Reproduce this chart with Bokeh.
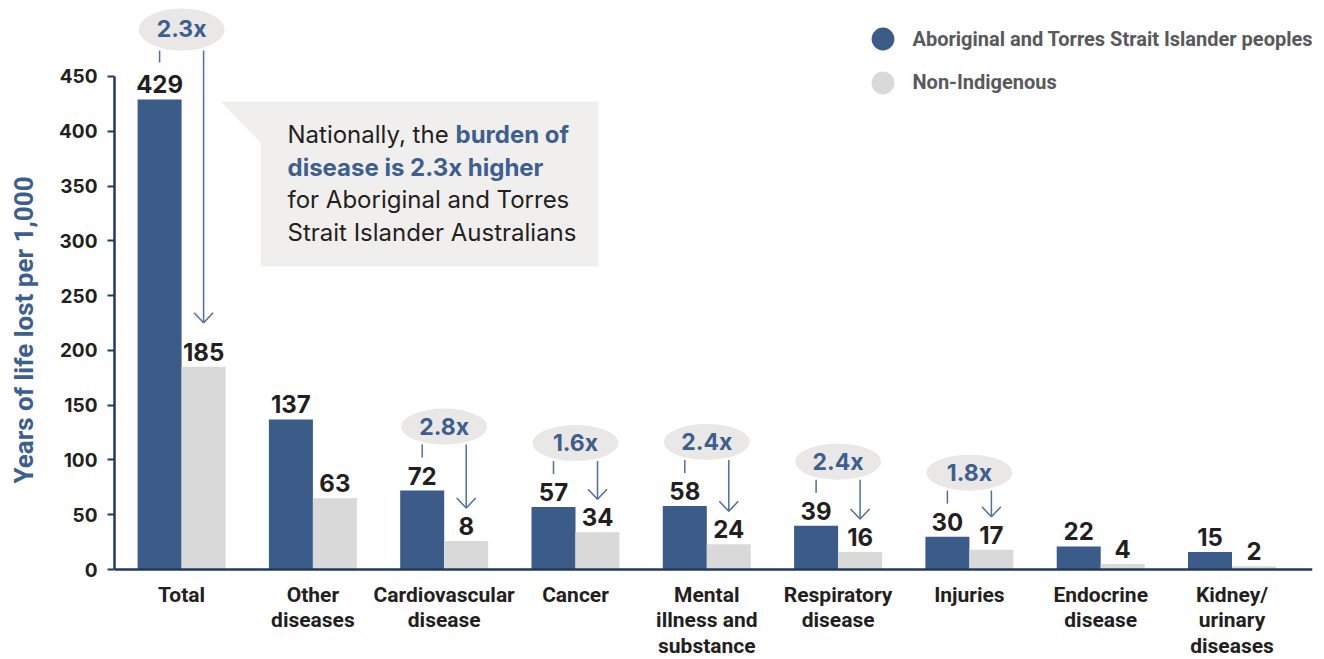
import numpy as np
from bokeh.plotting import figure
from bokeh.models import Range1d, FixedTicker, Legend, LegendItem
from bokeh.core.properties import value
from bokeh.embed import file_html
from bokeh.resources import INLINE

# ---------------- data ----------------
categories = ["Total", "Other\ndiseases", "Cardiovascular\ndisease", "Cancer",
              "Mental\nillness and\nsubstance", "Respiratory\ndisease", "Injuries",
              "Endocrine\ndisease", "Kidney/\nurinary\ndiseases"]
aboriginal = [429, 137, 72, 57, 58, 40, 30, 21, 16]
non_indigenous = [185, 65, 26, 34, 23, 16, 18, 5, 3]
aboriginal_labels = ["429", "137", "72", "57", "58", "39", "30", "22", "15"]
non_indigenous_labels = ["185", "63", "8", "34", "24", "16", "17", "4", "2"]
ratio_labels = ["2.3x", "", "2.8x", "1.6x", "2.4x", "2.4x", "1.8x", "", ""]
y_ticks = [0, 50, 100, 150, 200, 250, 300, 350, 400, 450]
series_names = ["Aboriginal and Torres Strait Islander peoples", "Non-Indigenous"]
y_title = "Years of life lost per 1,000"
note_lines = ["Nationally, the", "burden of", "disease is 2.3x higher",
              "for Aboriginal and Torres", "Strait Islander Australians"]

# ---------------- styles ----------------
BLUE = "#3b5b89"
GREY = "#d9d9d9"
DARK = "#231f20"
AXIS = "#233a5e"
ACCENT = "#3d5f8f"
ARROW = "#4f6f9f"
BUBBLE = "#e9e8e6"
BOX = "#f0efed"
LEGEND_TXT = "#58595b"

# ---------------- layout (page pixels) ----------------
W, H = 1324, 659
FRAME_L, FRAME_R, FRAME_T, FRAME_B = 114, 1312, 0, 659
ZERO_PX = 569
Y_SCALE = 1.0956
X_SCALE = 131.3
FIRST_CENTER = 181.1

y_start = -(FRAME_B - ZERO_PX) / Y_SCALE
y_end = (ZERO_PX - FRAME_T) / Y_SCALE
x_start = -(FIRST_CENTER - FRAME_L) / X_SCALE
x_end = x_start + (FRAME_R - FRAME_L) / X_SCALE


def dx(px):
    return px / X_SCALE


def dy(px):
    return px / Y_SCALE


def fx(page_x):
    return x_start + (page_x - FRAME_L) / X_SCALE


def fy(page_y):
    return (ZERO_PX - page_y) / Y_SCALE


idx = np.arange(len(categories))
half = dx(22)
blue_x = idx - half
grey_x = idx + half

p = figure(width=W, height=H, x_range=Range1d(x_start, x_end),
           y_range=Range1d(y_start, y_end), output_backend="svg",
           toolbar_location=None, min_border_left=FRAME_L,
           min_border_right=W - FRAME_R, min_border_top=0,
           min_border_bottom=0)
p.outline_line_color = None
p.grid.visible = False
p.background_fill_color = "white"
p.title.visible = False

# annotation box with pointer
p.patch(x=[fx(220), fx(598), fx(598), fx(260), fx(260)],
        y=[fy(101), fy(101), fy(266), fy(266), fy(142)],
        fill_color=BOX, line_color=None)

# bars
p.vbar(x=blue_x, top=aboriginal, bottom=0, width=dx(44), fill_color=BLUE, line_color=None)
p.vbar(x=grey_x, top=non_indigenous, bottom=0, width=dx(44), fill_color=GREY, line_color=None)

# value labels (anchor = visual centre of digits)
lbl = dict(text_align="center", text_baseline="alphabetic", y_offset=-15,
           text_font=value("Inter"), text_font_style="bold", text_font_size="24px",
           text_color=DARK)
p.text(x=blue_x, y=aboriginal, text=aboriginal_labels, **lbl)
p.text(x=grey_x, y=non_indigenous, text=non_indigenous_labels, **lbl)

# ratio bubbles and arrows
bx, by, bh, btxt = [], [], [], []
sx0, sy0, sx1, sy1 = [], [], [], []
hx, hy = [], []
for i, r in enumerate(ratio_labels):
    if not r:
        continue
    big = i == 0
    off = 70 if big else 64
    h = 42 if big else 36
    short_end = 33 if big else 31
    gap = 44 if big else 33
    cy = aboriginal[i] + dy(off)
    bx.append(i); by.append(cy); bh.append(h); btxt.append(r)
    bottom = cy - dy(h / 2)
    sx0.append(blue_x[i]); sy0.append(bottom); sx1.append(blue_x[i]); sy1.append(cy - dy(short_end))
    tip = non_indigenous[i] + dy(gap)
    sx0.append(grey_x[i]); sy0.append(bottom); sx1.append(grey_x[i]); sy1.append(tip)
    hx.append([grey_x[i] - dx(9.5), grey_x[i], grey_x[i] + dx(9.5)])
    hy.append([tip + dy(10), tip, tip + dy(10)])

p.segment(x0=sx0, y0=sy0, x1=sx1, y1=sy1, line_color=ARROW, line_width=1.5)
p.multi_line(xs=hx, ys=hy, line_color=ARROW, line_width=1.5)
p.ellipse(x=bx, y=by, width=86, height=bh, width_units="screen", height_units="screen",
          fill_color=BUBBLE, line_color=None)
p.text(x=bx, y=by, text=btxt, text_align="center", text_baseline="alphabetic", y_offset=0,
       text_font=value("Inter"), text_font_style="bold", text_font_size="23px",
       text_color=ACCENT)

# note text (anchors at the visual centre of capitals)
note = dict(text_baseline="alphabetic", text_align="left", text_font=value("Inter"),
            text_font_size="24px")
p.text(x=[fx(287), fx(287), fx(287)], y=[fy(134), fy(199), fy(232)],
       text=[note_lines[0], note_lines[3], note_lines[4]], text_color=DARK, **note)
p.text(x=[fx(455), fx(287)], y=[fy(134), fy(167)],
       text=[note_lines[1], note_lines[2]], text_color=ACCENT, text_font_style="bold", **note)

# legend (one single-item legend per series, to get large circle swatches)
r1 = p.scatter(x=[np.nan], y=[np.nan], marker="circle", fill_color=BLUE, line_color=None)
r2 = p.scatter(x=[np.nan], y=[np.nan], marker="circle", fill_color=GREY, line_color=None)
for r, name, cy in ((r1, series_names[0], 38.5), (r2, series_names[1], 82)):
    lg = Legend(items=[LegendItem(label=name, renderers=[r])],
                location=(882 - 28.5 - FRAME_L, FRAME_B - (cy + 28.5)),
                glyph_width=57, glyph_height=57, spacing=0, padding=0, margin=0,
                border_line_color=None, background_fill_alpha=0, label_standoff=2,
                label_text_font="Roboto", label_text_font_style="bold",
                label_text_font_size="20px", label_text_color=LEGEND_TXT)
    p.add_layout(lg)

# axes
xa = p.xaxis[0]
xa.fixed_location = 0
xa.ticker = FixedTicker(ticks=list(idx))
xa.major_label_overrides = {int(i): c for i, c in zip(idx, categories)}
xa.major_tick_out = 0
xa.major_tick_in = 0
xa.minor_tick_out = 0
xa.minor_tick_in = 0
xa.axis_line_color = AXIS
xa.axis_line_width = 2.5
xa.major_label_text_font = "Roboto"
xa.major_label_text_font_style = "bold"
xa.major_label_text_font_size = "21px"
xa.major_label_text_color = DARK
xa.major_label_text_line_height = 1.07
xa.major_label_standoff = 13

ya = p.yaxis[0]
ya.ticker = FixedTicker(ticks=y_ticks)
ya.bounds = (0, 450)
ya.major_tick_out = 7
ya.major_tick_in = 0
ya.minor_tick_out = 0
ya.minor_tick_in = 0
ya.major_tick_line_color = AXIS
ya.major_tick_line_width = 2
ya.axis_line_color = AXIS
ya.axis_line_width = 2.5
ya.major_label_text_font = "Inter"
ya.major_label_text_font_style = "bold"
ya.major_label_text_font_size = "19px"
ya.major_label_text_color = DARK
ya.major_label_standoff = 10
ya.axis_label = y_title
ya.axis_label_text_font = "Roboto"
ya.axis_label_text_font_style = "bold"
ya.axis_label_text_font_size = "26px"
ya.axis_label_text_color = ACCENT
ya.axis_label_standoff = 17

open("out.html", "w").write(file_html(p, INLINE))
